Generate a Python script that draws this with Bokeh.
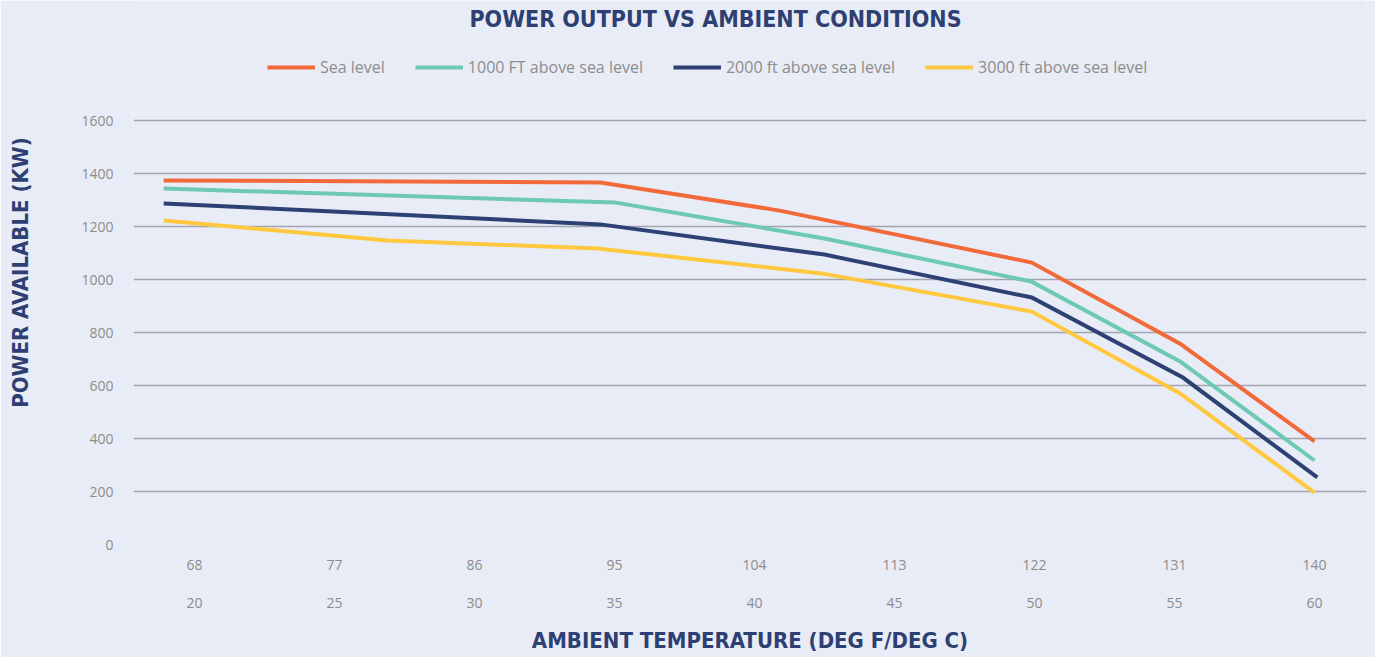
from bokeh.plotting import figure
from bokeh.models import (LinearAxis, FixedTicker, Range1d, Legend, LegendItem, Grid, Label)
from bokeh.embed import file_html
from bokeh.resources import INLINE

# ---- data ----
temps_c = [20, 25, 30, 35, 40, 45, 50, 55, 60]
temps_f = ["68", "77", "86", "95", "104", "113", "122", "131", "140"]
power_ticks = [0, 200, 400, 600, 800, 1000, 1200, 1400, 1600]

sea_x = [18.9, 34.5, 40.9, 49.9, 55.2, 60.0]
sea_y = [1374, 1366, 1260, 1064, 758, 389]

ft1000_x = [18.9, 35.0, 42.5, 49.9, 55.2, 60.0]
ft1000_y = [1343, 1291, 1155, 992, 691, 317]

ft2000_x = [18.9, 34.5, 42.5, 49.9, 55.3, 60.1]
ft2000_y = [1287, 1208, 1094, 932, 630, 253]

ft3000_x = [18.9, 26.9, 34.4, 42.4, 49.9, 55.2, 60.0]
ft3000_y = [1223, 1147, 1117, 1023, 879, 570, 196]

series_names = ["Sea level", "1000 FT above sea level",
                "2000 ft above sea level", "3000 ft above sea level"]
series_colors = ["#F26A3A", "#6DC8B6", "#2E4175", "#FFC83E"]

TITLE = "POWER OUTPUT VS AMBIENT CONDITIONS"

BG = "#E8ECF6"
NAVY = "#2E3F73"
GRAY = "#8C8C8C"
GRID = "#A2A5AE"
HEAD_FONT = "DejaVu Sans Condensed"
BODY_FONT = "Open Sans"

# frame spans the full top of the figure; 1600 kW gridline lands 120px from top
p = figure(width=1375, height=657, output_backend="svg", toolbar_location=None,
           x_range=Range1d(20 - 61 / 28, 60 + 52 / 28),
           y_range=Range1d(0, 1600 + 120 / 53 * 200),
           x_axis_type=None, y_axis_type=None,
           min_border_left=133, min_border_right=9, min_border_top=0,
           min_border_bottom=113,
           background_fill_color=BG, border_fill_color=BG,
           outline_line_color=None)

# title drawn as a label positioned relative to the plot frame
p.add_layout(Label(x=582, y=526, x_units="screen", y_units="screen",
                   text=TITLE, text_align="center", text_baseline="middle",
                   text_font=HEAD_FONT, text_font_style="bold",
                   text_font_size="23px", text_color=NAVY))

# y axis
yaxis = LinearAxis(ticker=FixedTicker(ticks=power_ticks),
                   axis_label="POWER AVAILABLE (KW)")
yaxis.axis_line_color = None
yaxis.major_tick_line_color = None
yaxis.minor_tick_line_color = None
yaxis.major_tick_in = 0
yaxis.major_tick_out = 0
yaxis.major_label_standoff = 20
yaxis.major_label_text_font = BODY_FONT
yaxis.major_label_text_font_size = "14px"
yaxis.major_label_text_color = GRAY
yaxis.axis_label_text_font = HEAD_FONT
yaxis.axis_label_text_font_style = "bold"
yaxis.axis_label_text_font_size = "22px"
yaxis.axis_label_text_color = NAVY
yaxis.axis_label_standoff = 45
p.add_layout(yaxis, "left")

p.add_layout(Grid(dimension=1, ticker=yaxis.ticker, grid_line_color=GRID,
                  grid_line_width=1.5))

# x axes: Fahrenheit row, then Celsius row
xaxis_f = LinearAxis(ticker=FixedTicker(ticks=temps_c),
                     major_label_overrides={c: f for c, f in zip(temps_c, temps_f)})
xaxis_c = LinearAxis(ticker=FixedTicker(ticks=temps_c),
                     axis_label="AMBIENT TEMPERATURE (DEG F/DEG C)")
for ax in (xaxis_f, xaxis_c):
    ax.axis_line_color = None
    ax.major_tick_line_color = None
    ax.minor_tick_line_color = None
    ax.major_tick_in = 0
    ax.major_tick_out = 0
    ax.major_label_text_font = BODY_FONT
    ax.major_label_text_font_size = "14px"
    ax.major_label_text_color = GRAY
xaxis_f.major_label_standoff = 15
xaxis_c.major_label_standoff = 25
xaxis_c.axis_label_text_font = HEAD_FONT
xaxis_c.axis_label_text_font_style = "bold"
xaxis_c.axis_label_text_font_size = "22px"
xaxis_c.axis_label_text_color = NAVY
xaxis_c.axis_label_standoff = 17
p.add_layout(xaxis_f, "below")
p.add_layout(xaxis_c, "below")

xs = [sea_x, ft1000_x, ft2000_x, ft3000_x]
ys = [sea_y, ft1000_y, ft2000_y, ft3000_y]
items = []
for x, y, name, col in zip(xs, ys, series_names, series_colors):
    r = p.line(x, y, line_color=col, line_width=4, line_join="miter")
    items.append(LegendItem(label=name, renderers=[r]))

legend = Legend(items=items, orientation="horizontal", location=(134, 466),
                glyph_width=48, glyph_height=18, label_standoff=5, spacing=30,
                padding=0, margin=0, background_fill_alpha=0,
                border_line_color=None, label_text_font=BODY_FONT,
                label_text_font_size="16px", label_text_color=GRAY)
p.add_layout(legend)

open("out.html", "w").write(file_html(p, INLINE))
